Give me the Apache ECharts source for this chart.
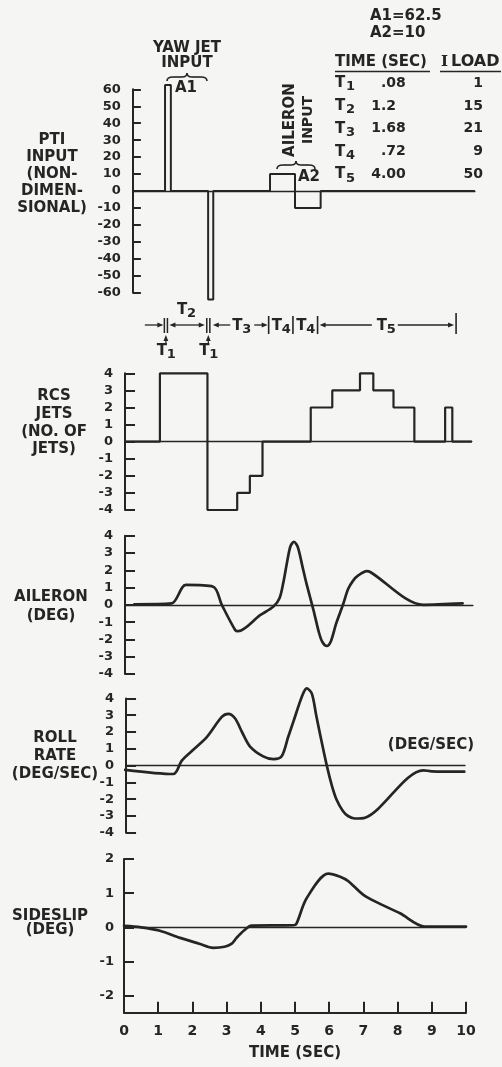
<!DOCTYPE html>
<html>
<head>
<meta charset="utf-8">
<script src="https://cdn.jsdelivr.net/npm/echarts@6/dist/echarts.min.js"></script>
<style>
  html, body { margin: 0; padding: 0; background: #f5f5f3; }
  #chart { width: 502px; height: 1067px; }
</style>
</head>
<body>
<div id="chart"></div>
<script>
// ---- data: time histories (time in seconds, value) ----
const timeTicks = [0, 1, 2, 3, 4, 5, 6, 7, 8, 9, 10];

// programmed test input: yaw jet pulses, then aileron doublet
const ptiInput = [[0.26, 0], [1.2, 62.5], [1.37, 0], [2.46, -64], [2.61, 0],
                  [4.27, 10], [5.0, -10], [5.75, 0], [10.26, 0]];

// number of RCS jets firing (level held until the next switch time)
const rcsJets = [[0.03, 0], [1.05, 4], [2.44, -4], [3.31, -3], [3.68, -2], [4.05, 0],
                 [5.46, 2], [6.09, 3], [6.9, 4], [7.29, 3], [7.88, 2], [8.49, 0],
                 [9.39, 2], [9.6, 0], [10.17, 0]];

const aileronDeg = [[0.3, 0.03], [1.39, 0.08], [1.81, 1.15], [2.61, 1.05], [2.86, 0.0],
                    [3.25, -1.45], [3.34, -1.52], [3.98, -0.6], [4.37, -0.1], [4.55, 0.4],
                    [4.66, 1.3], [4.78, 2.6], [4.87, 3.4], [4.97, 3.65], [5.08, 3.35],
                    [5.22, 2.2], [5.34, 1.2], [5.54, -0.3], [5.7, -1.6], [5.8, -2.15],
                    [5.93, -2.38], [6.05, -2.1], [6.2, -1.1], [6.41, 0.05], [6.55, 0.9],
                    [6.7, 1.4], [6.85, 1.7], [7.1, 1.95], [7.2, 1.9], [8.75, 0.0], [9.9, 0.08]];

const rollRate = [[0.03, -0.25], [1.44, -0.5], [1.69, 0.3], [2.0, 0.9], [2.42, 1.7],
                  [2.86, 2.9], [3.05, 3.08], [3.25, 2.8], [3.45, 2.0], [3.68, 1.15],
                  [4.07, 0.55], [4.37, 0.38], [4.61, 0.55], [4.8, 1.7], [4.95, 2.6],
                  [5.2, 4.1], [5.34, 4.6], [5.49, 4.3], [5.62, 3.0], [5.73, 1.9],
                  [5.93, 0.0], [6.08, -1.2], [6.22, -2.05], [6.4, -2.7], [6.55, -3.0],
                  [6.75, -3.15], [7.05, -3.1], [8.75, -0.28], [9.0, -0.34], [9.95, -0.36]];

const sideslip = [[0, 0.04], [0.5, 0.0], [1.05, -0.1], [1.64, -0.31], [2.2, -0.48],
                  [2.61, -0.6], [2.94, -0.57], [3.15, -0.48], [3.29, -0.31], [3.5, -0.1],
                  [3.73, 0.05], [4.95, 0.06], [5.04, 0.1], [5.34, 0.85], [5.97, 1.57],
                  [6.32, 1.48], [6.56, 1.35], [7.0, 0.95], [7.5, 0.68], [8.07, 0.41],
                  [8.8, 0.02], [10, 0.02]];

const sideslipTicks = [-2, -1, 0, 1, 2];

// input amplitudes and timing table
const amplitudeNames = ['A1', 'A2'];
const amplitudes = ['62.5', '10'];
const phaseIndex = ['1', '2', '3', '4', '5'];
const phaseTimes = ['.08', '1.2', '1.68', '.72', '4.00'];
const phaseLoads = ['1', '15', '21', '9', '50'];

// timing bars drawn between the input and jet plots
const yawPulses = [[1.18, 1.27], [2.42, 2.51]];
const phaseEnds = [4.23, 4.94, 5.66, 9.71];
const leadIn = 0.61;

// ---- layout ----
const INK = '#252525';
const BG = '#f5f5f3';
const FONT = '"DejaVu Sans", sans-serif';
const X0 = 124;       // pixel of t = 0
const SEC_PX = 34.2;  // pixels per second

const panels = [
  { top: 89.3,  height: 203.4, xMin: 0.26, xMax: 10.26, yMin: -60, yMax: 60, step: 10 },
  { top: 373.3, height: 136.7, xMin: 0.03, xMax: 10.17, yMin: -4,  yMax: 4,  step: 1 },
  { top: 535.7, height: 138.3, xMin: 0.03, xMax: 10.2,  yMin: -4,  yMax: 4,  step: 1 },
  { top: 698.4, height: 134.4, xMin: 0.06, xMax: 9.97,  yMin: -4,  yMax: 4,  step: 1 },
  { top: 859,   height: 153.7, xMin: 0,    xMax: 10,    yMin: -2.5, yMax: 2, step: 1 }
];
const LAST = panels.length - 1;

const chart = echarts.init(document.getElementById('chart'), null, { renderer: 'canvas' });

const grids = panels.map(p => ({
  left: X0 + p.xMin * SEC_PX,
  top: p.top,
  width: (p.xMax - p.xMin) * SEC_PX,
  height: p.height,
  containLabel: false,
  outerBoundsMode: 'none'
}));

const xAxes = panels.map((p, i) => {
  if (i < LAST) {
    return {
      type: 'value', gridIndex: i, min: p.xMin, max: p.xMax,
      axisLine: { show: true, onZero: true, lineStyle: { color: INK, width: 1.4 } },
      axisTick: { show: false }, axisLabel: { show: false }, splitLine: { show: false }
    };
  }
  return {
    type: 'value', gridIndex: i, min: timeTicks[0], max: timeTicks[timeTicks.length - 1], interval: 1,
    name: 'TIME (SEC)', nameLocation: 'middle', nameGap: 33,
    nameTextStyle: { color: INK, fontFamily: FONT, fontWeight: 'bold', fontSize: 15 },
    axisLine: { show: true, onZero: false, lineStyle: { color: INK, width: 2 } },
    axisTick: { show: true, inside: true, length: 11, lineStyle: { color: INK, width: 2 } },
    axisLabel: { show: true, margin: 12, color: INK, fontFamily: FONT, fontWeight: 'bold', fontSize: 14 },
    splitLine: { show: false }
  };
});

const yAxes = panels.map((p, i) => {
  const ax = {
    type: 'value', gridIndex: i, min: p.yMin, max: p.yMax,
    axisLine: { show: true, onZero: false, lineStyle: { color: INK, width: 2 } },
    axisTick: { show: true, inside: true, length: i === 0 ? 8 : 10, lineStyle: { color: INK, width: 2 } },
    axisLabel: { show: true, margin: i === LAST ? 10 : 12, color: INK, fontFamily: FONT, fontWeight: 'bold', fontSize: 13 },
    splitLine: { show: false }
  };
  if (i === LAST) {
    ax.axisLabel.customValues = sideslipTicks;
    ax.axisTick.customValues = sideslipTicks;
  } else {
    ax.interval = p.step;
  }
  return ax;
});

const lineSeries = (idx, data, extra) => Object.assign({
  type: 'line', xAxisIndex: idx, yAxisIndex: idx, data: data,
  symbol: 'none', silent: true, clip: false, z: 3,
  lineStyle: { color: INK, width: 2.7, cap: 'round', join: 'round' }
}, extra || {});

const series = [
  lineSeries(0, ptiInput, { step: 'end', lineStyle: { color: INK, width: 2 } }),
  lineSeries(1, rcsJets, { step: 'end', lineStyle: { color: INK, width: 2.2 } }),
  lineSeries(2, aileronDeg, { smooth: 0.3 }),
  lineSeries(3, rollRate, { smooth: 0.3 }),
  lineSeries(4, sideslip, {
    smooth: 0.3,
    markLine: {
      silent: true, symbol: 'none', label: { show: false },
      lineStyle: { color: INK, width: 1.4, type: 'solid' },
      data: [{ yAxis: 0 }]
    }
  })
];

chart.setOption({
  animation: false,
  backgroundColor: BG,
  grid: grids,
  xAxis: xAxes,
  yAxis: yAxes,
  series: series
});

// ---- annotations ----
const toX = t => chart.convertToPixel({ xAxisIndex: 1 }, t);

function txt(x, y, text, size, opt) {
  opt = opt || {};
  const align = opt.align || 'center';
  const s = {
    text: text, font: 'bold ' + size + 'px ' + (opt.family || FONT), fill: INK,
    align: align, textAlign: align, verticalAlign: 'middle', textVerticalAlign: 'middle'
  };
  if (opt.lh) s.lineHeight = opt.lh;
  return { type: 'text', x: x, y: y, rotation: opt.rot || 0, silent: true, z: 10, style: s };
}
function seg(x1, y1, x2, y2, w) {
  return { type: 'line', silent: true, z: 10, shape: { x1: x1, y1: y1, x2: x2, y2: y2 },
           style: { stroke: INK, lineWidth: w || 1.3 } };
}
function headH(x, y, dir) {
  return { type: 'polygon', silent: true, z: 10,
           shape: { points: [[x, y], [x - dir * 6, y - 2.6], [x - dir * 6, y + 2.6]] },
           style: { fill: INK } };
}
function headUp(x, y) {
  return { type: 'polygon', silent: true, z: 10,
           shape: { points: [[x, y], [x - 2.4, y + 6], [x + 2.4, y + 6]] },
           style: { fill: INK } };
}
function subT(xc, y, digit, size) {
  size = size || 15;
  return [txt(xc - 4, y, 'T', size), txt(xc + 5.5, y + 4, digit, size - 2)];
}
function curve(x1, y1, cx, cy, x2, y2) {
  return { type: 'bezierCurve', silent: true, z: 10,
           shape: { x1: x1, y1: y1, cpx1: cx, cpy1: cy, x2: x2, y2: y2 },
           style: { stroke: INK, fill: null, lineWidth: 1.6 } };
}
// horizontal curly brace opening downward
function brace(x0, x1, y) {
  const xm = (x0 + x1) / 2;
  return [
    curve(x0, y + 4, x0, y, x0 + 6, y),
    seg(x0 + 6, y, xm - 5, y, 1.6),
    curve(xm - 5, y, xm, y, xm, y - 4),
    curve(xm, y - 4, xm, y, xm + 5, y),
    seg(xm + 5, y, x1 - 6, y, 1.6),
    curve(x1 - 6, y, x1, y, x1, y + 4)
  ];
}

const g = [];

// panel titles at the left
g.push(txt(52, 174, 'PTI\nINPUT\n(NON-\nDIMEN-\nSIONAL)', 15, { lh: 17 }));
g.push(txt(54, 423, 'RCS\nJETS\n(NO. OF\nJETS)', 15, { lh: 17.7 }));
g.push(txt(51, 607, 'AILERON\n(DEG)', 15, { lh: 19 }));
g.push(txt(55, 756, 'ROLL\nRATE\n(DEG/SEC)', 15, { lh: 17.8 }));
g.push(txt(50, 923, 'SIDESLIP\n(DEG)', 15, { lh: 14 }));
g.push(txt(431, 745, '(DEG/SEC)', 15));

// input labels
g.push(txt(187, 48, 'YAW JET', 15));
g.push(txt(187, 63, 'INPUT', 15));
brace(167, 207, 77).forEach(e => g.push(e));
g.push(txt(186, 88, amplitudeNames[0], 15));
g.push(txt(290, 120, 'AILERON', 15, { rot: Math.PI / 2 }));
g.push(txt(308, 120, 'INPUT', 14, { rot: Math.PI / 2 }));
brace(277, 315, 165).forEach(e => g.push(e));
g.push(txt(309, 177, amplitudeNames[1], 15));

// amplitudes
amplitudes.forEach((a, i) => g.push(txt(370, 16 + i * 17, amplitudeNames[i] + '=' + a, 15, { align: 'left' })));

// timing table
g.push(txt(335, 62, 'TIME (SEC)', 15, { align: 'left' }));
g.push(seg(335, 71.5, 430, 71.5, 1.5));
g.push(txt(441, 62, 'I', 15, { align: 'left', family: '"DejaVu Serif", serif' }));
g.push(txt(451, 62, 'LOAD', 16, { align: 'left' }));
g.push(seg(440, 71.5, 501, 71.5, 1.5));
phaseIndex.forEach((d, i) => {
  const y = 83 + i * 22.9;
  g.push(txt(335, y, 'T', 15, { align: 'left' }));
  g.push(txt(346, y + 4, d, 13, { align: 'left' }));
  const parts = phaseTimes[i].split('.');
  const dec = 381;
  if (parts[0]) g.push(txt(dec, y, parts[0], 14, { align: 'right' }));
  g.push(txt(dec, y, '.' + parts[1], 14, { align: 'left' }));
  g.push(txt(483, y, phaseLoads[i], 14, { align: 'right' }));
});

// timing bars between the input and jet plots
const RY = 325;
g.push(seg(toX(leadIn), RY, toX(yawPulses[0][0]) - 3, RY));
g.push(headH(toX(yawPulses[0][0]) - 1, RY, 1));
yawPulses.forEach(p => {
  g.push(seg(toX(p[0]), 318, toX(p[0]), 333, 1.5));
  g.push(seg(toX(p[1]), 318, toX(p[1]), 333, 1.5));
  const xm = toX((p[0] + p[1]) / 2);
  g.push(seg(xm, 340, xm, 344, 1.2));
  g.push(headUp(xm, 335));
  subT(xm, 351, '1').forEach(e => g.push(e));
});
// T2 between the yaw pulses
{
  const a = toX(yawPulses[0][1]) + 2, b = toX(yawPulses[1][0]) - 2;
  g.push(seg(a + 4, RY, b - 4, RY));
  g.push(headH(a, RY, -1));
  g.push(headH(b, RY, 1));
  subT((a + b) / 2 - 1, 310, '2').forEach(e => g.push(e));
}
// T3 up to the first phase bar
{
  const a = toX(yawPulses[1][1]) + 3, b = toX(phaseEnds[0]) - 1;
  const xm = (a + b) / 2 + 1;
  g.push(headH(a, RY, -1));
  g.push(seg(a + 4, RY, xm - 11, RY));
  g.push(seg(xm + 13, RY, b - 4, RY));
  g.push(headH(b, RY, 1));
  subT(xm, RY + 1, '3').forEach(e => g.push(e));
}
// phase bars
phaseEnds.forEach((t, i) => {
  const top = i === phaseEnds.length - 1 ? 313 : 316;
  g.push(seg(toX(t), top, toX(t), 334, 1.6));
});
// T4, T4
for (let i = 0; i < 2; i++) {
  const xm = (toX(phaseEnds[i]) + toX(phaseEnds[i + 1])) / 2;
  subT(xm, RY + 1, '4').forEach(e => g.push(e));
}
// T5
{
  const a = toX(phaseEnds[2]) + 2, b = toX(phaseEnds[3]) - 2;
  const xm = (a + b) / 2 - 1;
  g.push(headH(a, RY, -1));
  g.push(seg(a + 4, RY, xm - 14, RY));
  g.push(seg(xm + 12, RY, b - 4, RY));
  g.push(headH(b, RY, 1));
  subT(xm, RY + 1, '5').forEach(e => g.push(e));
}

chart.setOption({ graphic: { elements: g } });
</script>
</body>
</html>
